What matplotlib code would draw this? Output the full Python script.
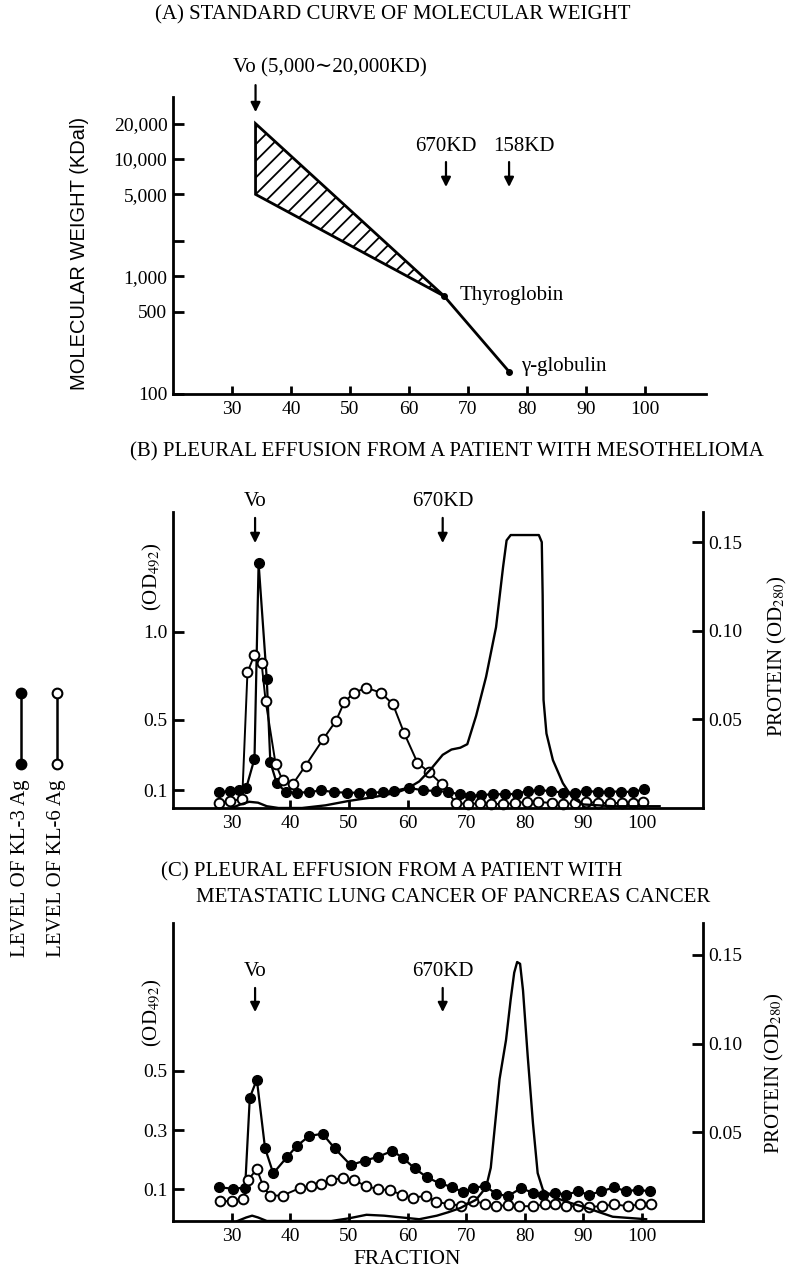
import matplotlib.pyplot as plt
from matplotlib.lines import Line2D

plt.rcParams['font.family'] = ['Liberation Serif', 'DejaVu Serif']
plt.rcParams['mathtext.fontset'] = 'stix'
plt.rcParams['hatch.linewidth'] = 1.3

# (A) standard curve of molecular weight
vo_fraction = 34
vo_range = [5000, 20000]
std_fraction = [66, 77]
std_mw = [680, 155]
std_names = ['Thyroglobin', 'γ-globulin']
a_yticks = [100, 500, 1000, 2000, 5000, 10000, 20000]
a_ylabels = ['100', '500', '1,000', '', '5,000', '10,000', '20,000']

# (B) mesothelioma
b3_x = [27.8, 29.8, 31.3, 32.5, 33.9, 34.6, 36.0, 36.6, 37.7, 39.3, 41.1, 43.2, 45.3, 47.5, 49.6,
        51.7, 53.8, 55.9, 57.7, 60.2, 62.6, 64.9, 66.9, 68.9, 70.6, 72.6, 74.6, 76.6, 78.6, 80.5,
        82.5, 84.5, 86.5, 88.5, 90.5, 92.5, 94.4, 96.4, 98.4, 100.4]
b3_y = [0.09, 0.095, 0.1, 0.115, 0.28, 1.39, 0.73, 0.26, 0.14, 0.09, 0.087, 0.09, 0.1, 0.09, 0.087,
        0.087, 0.087, 0.09, 0.097, 0.115, 0.1, 0.097, 0.091, 0.078, 0.068, 0.074, 0.078, 0.078, 0.08, 0.097,
        0.1, 0.097, 0.087, 0.087, 0.097, 0.091, 0.093, 0.093, 0.091, 0.106]
b6_x = [27.8, 29.8, 31.8, 32.7, 33.9, 35.1, 35.8, 37.5, 38.7, 40.4, 42.6, 45.6, 47.8, 49.2, 50.9,
        53.0, 55.4, 57.5, 59.4, 61.7, 63.6, 65.9, 68.2, 70.3, 72.3, 74.3, 76.3, 78.3, 80.3, 82.3,
        84.6, 86.6, 88.5, 90.5, 92.5, 94.5, 96.5, 98.5, 100.2]
b6_y = [0.03, 0.04, 0.05, 0.77, 0.87, 0.825, 0.607, 0.25, 0.157, 0.134, 0.24, 0.39, 0.495, 0.6, 0.655,
        0.682, 0.655, 0.59, 0.427, 0.257, 0.205, 0.134, 0.03, 0.021, 0.028, 0.025, 0.021, 0.028, 0.035, 0.035,
        0.028, 0.021, 0.028, 0.035, 0.028, 0.028, 0.028, 0.03, 0.035]
bp_x = [30, 31.5, 33, 34.5, 36, 38, 42, 46, 50, 54, 58, 60, 62, 64, 66, 67.5, 69, 70.2, 71.7, 73.4,
        75.1, 76.3, 76.9, 77.6, 80, 82.4, 82.9, 83.05, 83.2, 83.7, 84.8, 86.5, 88.2, 90, 95, 100, 103]
bp_y = [0, 0.002, 0.0035, 0.003, 0.001, 0, 0, 0.0015, 0.004, 0.006, 0.0085, 0.011, 0.015, 0.022, 0.03,
        0.033, 0.034, 0.036, 0.052, 0.074, 0.102, 0.136, 0.151, 0.154, 0.154, 0.154, 0.150, 0.12, 0.061,
        0.042, 0.027, 0.014, 0.0055, 0.002, 0.001, 0.001, 0.001]

# (C) metastatic lung cancer of pancreas cancer
c3_x = [27.8, 30.3, 32.3, 33.1, 34.3, 35.7, 37.1, 39.4, 41.1, 43.2, 45.5, 47.6, 50.3, 52.7, 55.0,
        57.4, 59.3, 61.2, 63.3, 65.5, 67.6, 69.5, 71.2, 73.2, 75.1, 77.1, 79.4, 81.4, 83.1, 85.1,
        87.1, 89.0, 91.0, 93.0, 95.3, 97.3, 99.3, 101.3]
c3_y = [0.107, 0.102, 0.106, 0.41, 0.471, 0.239, 0.154, 0.208, 0.246, 0.28, 0.288, 0.238, 0.182, 0.197, 0.21,
        0.23, 0.205, 0.171, 0.141, 0.12, 0.108, 0.09, 0.104, 0.112, 0.085, 0.077, 0.104, 0.088, 0.082, 0.088,
        0.082, 0.093, 0.082, 0.093, 0.107, 0.093, 0.099, 0.093]
c6_x = [28.0, 30.0, 32.0, 32.8, 34.3, 35.4, 36.5, 38.7, 41.6, 43.5, 45.3, 47.0, 49.0, 50.8, 53.0,
        55.0, 57.0, 59.0, 60.9, 63.2, 64.9, 67.0, 69.2, 71.1, 73.2, 75.1, 77.1, 79.1, 81.4, 83.4,
        85.1, 87.1, 89.0, 91.0, 93.2, 95.3, 97.6, 99.6, 101.5]
c6_y = [0.06, 0.06, 0.069, 0.132, 0.168, 0.11, 0.079, 0.079, 0.104, 0.11, 0.119, 0.132, 0.138, 0.132, 0.11,
        0.101, 0.097, 0.082, 0.071, 0.079, 0.058, 0.05, 0.045, 0.06, 0.052, 0.043, 0.047, 0.043, 0.043, 0.049,
        0.05, 0.043, 0.043, 0.041, 0.043, 0.049, 0.043, 0.049, 0.049]
cp_x = [31, 32.5, 33.5, 34.5, 36, 40, 47, 50, 53, 56, 59, 62, 65, 67, 69, 71.7, 73.4, 74.2, 74.8, 75.7,
        76.8, 77.6, 78.2, 78.7, 79.2, 79.7, 80.5, 81.4, 82.2, 83.1, 84.8, 87, 90, 95, 100.7]
cp_y = [0, 0.002, 0.003, 0.002, 0, 0, 0, 0.0015, 0.0035, 0.003, 0.002, 0.001, 0.003, 0.005, 0.0073,
        0.012, 0.019, 0.03, 0.05, 0.08, 0.102, 0.125, 0.14, 0.146, 0.145, 0.13, 0.093, 0.055, 0.027,
        0.0175, 0.0137, 0.011, 0.008, 0.0024, 0.001]

fractions = [30, 40, 50, 60, 70, 80, 90, 100]
W, H = 786, 1274
fig = plt.figure(figsize=(W / 100, H / 100), dpi=100)


def rect(l, t, r, b):
    return [l / W, 1 - b / H, (r - l) / W, (b - t) / H]


def ftext(x, y, s, **kw):
    kw.setdefault('fontsize', 15)
    kw.setdefault('va', 'center')
    fig.text(x / W, 1 - y / H, s, **kw)


def arrow(ax, x, y0, y1):
    ax.annotate('', xy=(x, y1), xytext=(x, y0), xycoords=ax.get_xaxis_transform(),
                annotation_clip=False,
                arrowprops=dict(arrowstyle='-|>', color='black', lw=1.6,
                                mutation_scale=14, shrinkA=0, shrinkB=0))


def base_style(ax):
    ax.set_xlim(20, 110.4)
    ax.set_xticks(fractions)
    ax.spines['top'].set_visible(False)
    ax.spines['right'].set_visible(False)
    for s in ax.spines.values():
        s.set_linewidth(2)
    ax.tick_params(direction='in', width=2, labelsize=14)
    ax.tick_params(axis='x', length=6, pad=5)
    ax.tick_params(axis='y', length=8, pad=4)
    ax.minorticks_off()


# ---- panel A ----
axA = fig.add_axes(rect(173, 97, 706, 394))
base_style(axA)
axA.set_yscale('log')
axA.set_ylim(100, 33700)
axA.set_yticks(a_yticks)
axA.set_yticklabels(a_ylabels)
axA.minorticks_off()
axA.fill([vo_fraction, vo_fraction, std_fraction[0]], [vo_range[1], vo_range[0], std_mw[0]],
         facecolor='white', edgecolor='black', hatch='//', lw=2)
axA.plot(std_fraction, std_mw, color='black', lw=2)
axA.plot(std_fraction, std_mw, 'o', color='black', ms=4)
axA.text(68.6, 690, std_names[0], fontsize=15, va='center')
axA.text(79.0, 172, std_names[1], fontsize=15, va='center')
tr = axA.get_xaxis_transform()
axA.text(30.2, 1.098, 'Vo (5,000∼20,000KD)', transform=tr, fontsize=15, va='center')
arrow(axA, vo_fraction, 1.040, 0.949)
axA.text(66.3, 0.835, '670KD', transform=tr, fontsize=15, ha='center', va='center')
arrow(axA, 66.3, 0.781, 0.697)
axA.text(79.5, 0.835, '158KD', transform=tr, fontsize=15, ha='center', va='center')
arrow(axA, 77, 0.781, 0.697)
ftext(80, 253, 'MOLECULAR WEIGHT (KDal)', rotation=90, ha='center',
      family=['Liberation Sans', 'DejaVu Sans'], fontsize=14.5)
ftext(155, 15, '(A) STANDARD CURVE OF MOLECULAR WEIGHT')


def fraction_panel(box, ylim, lticks, lfmt, rlim, s3, s6, sp, ann_y):
    ax = fig.add_axes(rect(*box))
    base_style(ax)
    ax.set_ylim(*ylim)
    ax.set_yticks(lticks)
    ax.set_yticklabels([lfmt.format(v) for v in lticks])
    ax.plot(*s3, '-o', color='black', lw=1.6, ms=7, mfc='black', clip_on=False)
    ax.plot(*s6, '-o', color='black', lw=1.4, ms=7, mfc='white', mew=1.4, clip_on=False)
    tw = ax.twinx()
    tw.set_ylim(*rlim)
    tw.plot(*sp, color='black', lw=1.7)
    tw.set_yticks([0.05, 0.10, 0.15])
    tw.set_yticklabels(['0.05', '0.10', '0.15'])
    for k in ['top', 'left', 'bottom']:
        tw.spines[k].set_visible(False)
    tw.spines['right'].set_linewidth(2)
    tw.tick_params(direction='in', width=2, length=8, labelsize=14, pad=4)
    tr = ax.get_xaxis_transform()
    lab_y, a0, a1 = ann_y
    ax.text(34, lab_y, 'Vo', transform=tr, fontsize=15, ha='center', va='center')
    ax.text(66, lab_y, '670KD', transform=tr, fontsize=15, ha='center', va='center')
    arrow(ax, 34, a0, a1)
    arrow(ax, 66, a0, a1)
    return ax


# ---- panel B ----
fraction_panel((173, 512, 703, 808), (0, 1.68), [0.1, 0.5, 1.0], '{:.1f}', (0, 0.167),
               (b3_x, b3_y), (b6_x, b6_y), (bp_x, bp_y), (1.037, 0.980, 0.895))
ftext(130, 452, '(B) PLEURAL EFFUSION FROM A PATIENT WITH MESOTHELIOMA')
ftext(152, 577, '(OD$_{492}$)', rotation=90, ha='center')
ftext(777, 656, 'PROTEIN (OD$_{280}$)', rotation=90, ha='center')

# ---- panel C ----
fraction_panel((173, 923, 703, 1221), (-0.007, 1.0), [0.1, 0.3, 0.5], '{:.1f}', (0, 0.168),
               (c3_x, c3_y), (c6_x, c6_y), (cp_x, cp_y), (0.836, 0.782, 0.701))
ftext(161, 872, '(C) PLEURAL EFFUSION FROM A PATIENT WITH')
ftext(196, 897, 'METASTATIC LUNG CANCER OF PANCREAS CANCER')
ftext(152, 1013, '(OD$_{492}$)', rotation=90, ha='center')
ftext(774, 1073, 'PROTEIN (OD$_{280}$)', rotation=90, ha='center')
ftext(407, 1259, 'FRACTION', ha='center', fontsize=15.5)

# ---- legend at left ----
for x, face in [(20.7, 'black'), (57, 'white')]:
    fig.add_artist(Line2D([x / W, x / W], [1 - 693 / H, 1 - 764 / H], color='black', lw=1.8,
                          marker='o', ms=7, mfc=face, mec='black', mew=1.5))
ftext(20.7, 868, 'LEVEL OF KL-3 Ag', rotation=90, ha='center')
ftext(57, 868, 'LEVEL OF KL-6 Ag', rotation=90, ha='center')

fig.savefig('out.png', dpi=100)
